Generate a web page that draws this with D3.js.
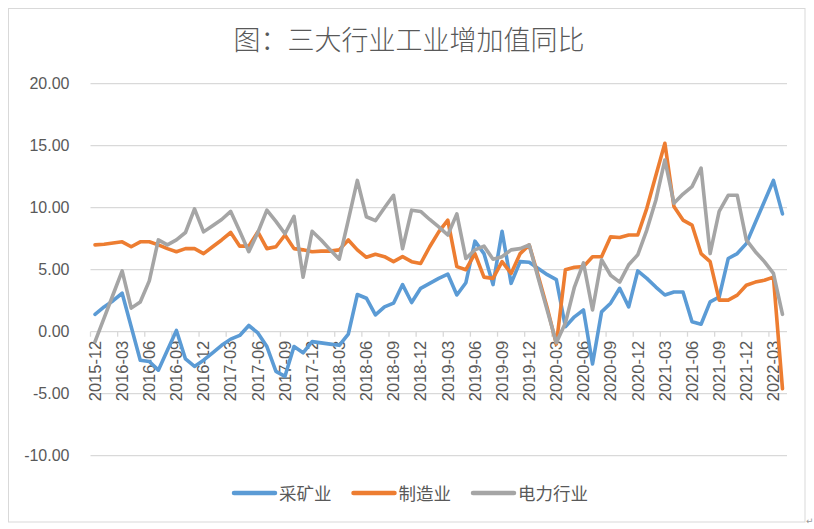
<!DOCTYPE html>
<html><head><meta charset="utf-8">
<script src="https://cdn.jsdelivr.net/npm/d3@7"></script>
<style>
html,body{margin:0;padding:0;background:#fff;}
svg{display:block;}
</style></head>
<body>
<svg id="chart" width="814" height="529"></svg>
<script>
// ---- data ----
const title = "图：三大行业工业增加值同比";
const seriesNames = ["采矿业", "制造业", "电力行业"];
const seriesColors = ["#5B9BD5", "#ED7D31", "#A5A5A5"];

// months 2015-12 .. 2022-04
const categories = [
"2015-12",
"2016-01","2016-02","2016-03","2016-04","2016-05","2016-06","2016-07","2016-08","2016-09","2016-10","2016-11","2016-12",
"2017-01","2017-02","2017-03","2017-04","2017-05","2017-06","2017-07","2017-08","2017-09","2017-10","2017-11","2017-12",
"2018-01","2018-02","2018-03","2018-04","2018-05","2018-06","2018-07","2018-08","2018-09","2018-10","2018-11","2018-12",
"2019-01","2019-02","2019-03","2019-04","2019-05","2019-06","2019-07","2019-08","2019-09","2019-10","2019-11","2019-12",
"2020-01","2020-02","2020-03","2020-04","2020-05","2020-06","2020-07","2020-08","2020-09","2020-10","2020-11","2020-12",
"2021-01","2021-02","2021-03","2021-04","2021-05","2021-06","2021-07","2021-08","2021-09","2021-10","2021-11","2021-12",
"2022-01","2022-02","2022-03","2022-04"];

const mining = [
1.4, 2.0, 2.5, 3.1, 0.4, -2.3, -2.4, -3.1, -1.5, 0.1, -2.2, -2.8, -2.3,
-1.7, -1.1, -0.6, -0.3, 0.5, -0.1, -1.2, -3.2, -3.6, -1.2, -1.7, -0.8,
-0.9, -1.0, -1.1, -0.2, 3.0, 2.7, 1.35, 2.0, 2.3, 3.8, 2.35, 3.5,
3.9, 4.3, 4.65, 2.96, 3.95, 7.3, 6.3, 3.8, 8.1, 3.9, 5.65, 5.6,
5.1, 4.6, 4.2, 0.4, 1.2, 1.75, -2.6, 1.6, 2.3, 3.5, 2.0, 4.9,
4.3, 3.6, 2.96, 3.2, 3.2, 0.8, 0.6, 2.4, 2.8, 5.9, 6.3, 7.1,
8.8, 10.5, 12.2, 9.5];

const manufacturing = [
7.0, 7.05, 7.15, 7.25, 6.85, 7.25, 7.25, 7.0, 6.7, 6.45, 6.7, 6.7, 6.3,
6.85, 7.4, 8.0, 6.9, 6.9, 8.05, 6.7, 6.85, 7.8, 6.7, 6.6, 6.45,
6.5, 6.5, 6.6, 7.4, 6.6, 6.0, 6.25, 6.05, 5.65, 6.05, 5.65, 5.5,
6.85, 8.05, 9.0, 5.25, 5.0, 6.3, 4.4, 4.3, 5.65, 4.7, 6.3, 7.0,
4.5, 1.9, -1.0, 5.0, 5.2, 5.25, 6.05, 6.05, 7.65, 7.6, 7.8, 7.8,
9.95, 12.6, 15.2, 10.1, 9.0, 8.6, 6.3, 5.65, 2.55, 2.55, 2.95, 3.75,
4.0, 4.15, 4.4, -4.6];

const power = [
-0.8, 1.1, 3.0, 4.9, 1.9, 2.4, 4.1, 7.4, 7.0, 7.4, 8.0, 9.9, 8.05,
8.55, 9.05, 9.7, 8.1, 6.45, 8.0, 9.8, 8.9, 7.9, 9.3, 4.4, 8.1,
7.4, 6.6, 5.85, 9.0, 12.2, 9.27, 8.95, 10.0, 11.0, 6.7, 9.8, 9.7,
9.05, 8.45, 7.8, 9.5, 5.9, 6.6, 6.9, 5.85, 6.05, 6.6, 6.7, 7.0,
4.3, 1.7, -0.9, 0.7, 3.6, 5.55, 1.75, 5.8, 4.55, 4.0, 5.4, 6.2,
8.2, 10.6, 13.85, 10.35, 11.1, 11.7, 13.2, 6.3, 9.7, 11.0, 11.0, 7.4,
6.45, 5.65, 4.7, 1.4];

const yTicks = [-10, -5, 0, 5, 10, 15, 20];
const tickLabels = categories.filter((d, i) => i % 3 === 0 && i <= 75);

// ---- drawing ----
const svg = d3.select("#chart");
const plotL = 90.5, plotR = 787, plotT = 83.7, plotB = 455.7;

const x = d3.scaleBand().domain(categories).range([plotL, plotR]).padding(0);
const y = d3.scaleLinear().domain([-10, 20]).range([plotB, plotT]);
const cx = d => x(d) + x.bandwidth() / 2;

// chart border
svg.append("rect").attr("x", 8.5).attr("y", 8.5).attr("width", 796.5).attr("height", 513.5)
  .attr("fill", "#fff").attr("stroke", "#d9d9d9").attr("stroke-width", 1);

// title
svg.append("text").attr("x", 409).attr("y", 50).attr("text-anchor", "middle")
  .attr("font-family", "'Noto Sans CJK SC', sans-serif").attr("font-size", 27)
  .attr("font-weight", 300).attr("fill", "#595959").text(title);

// gridlines
svg.append("g").selectAll("line").data(yTicks).join("line")
  .attr("x1", plotL).attr("x2", plotR)
  .attr("y1", d => y(d)).attr("y2", d => y(d))
  .attr("stroke", "#d9d9d9").attr("stroke-width", 1.3);

// y axis labels
const yAxis = d3.axisLeft(y).tickValues(yTicks).tickSize(0).tickPadding(21)
  .tickFormat(d => d.toFixed(2));
const gy = svg.append("g").attr("transform", `translate(${plotL},0)`).call(yAxis);
gy.select(".domain").remove();
gy.selectAll("text").attr("font-family", "'Liberation Sans', Arial, sans-serif")
  .attr("font-size", 16).attr("fill", "#595959");

// category tick marks on the zero line (every 3 categories, at boundaries)
const tickIdx = d3.range(0, 76, 3);
svg.append("g").selectAll("line").data(tickIdx).join("line")
  .attr("x1", i => x(categories[i])).attr("x2", i => x(categories[i]))
  .attr("y1", y(0)).attr("y2", y(0) + 5)
  .attr("stroke", "#d9d9d9").attr("stroke-width", 1.3);

// x axis labels
const xAxis = d3.axisBottom(x).tickValues(tickLabels).tickSize(0).tickPadding(0);
const gx = svg.append("g").attr("transform", `translate(0,${y(0)})`).call(xAxis);
gx.select(".domain").remove();
gx.selectAll("text")
  .attr("font-family", "'Liberation Sans', Arial, sans-serif")
  .attr("font-size", 16.5).attr("fill", "#595959")
  .attr("transform", "rotate(-90)")
  .attr("x", -9).attr("y", 0).attr("dy", "0.35em")
  .style("text-anchor", "end");

// lines
const seriesData = [mining, manufacturing, power];
const line = d3.line().x((d, i) => cx(categories[i])).y(d => y(d));
svg.append("g").selectAll("path").data(seriesData).join("path")
  .attr("d", d => line(d))
  .attr("fill", "none")
  .attr("stroke", (d, i) => seriesColors[i])
  .attr("stroke-width", 3.6)
  .attr("stroke-linejoin", "round")
  .attr("stroke-linecap", "round");

// legend
const lg = svg.append("g");
let lx = 0;
const items = [];
seriesNames.forEach((name, i) => {
  const g = lg.append("g");
  g.append("line").attr("x1", 0).attr("x2", 41).attr("y1", 0).attr("y2", 0)
    .attr("stroke", seriesColors[i]).attr("stroke-width", 4.5).attr("stroke-linecap", "round");
  const t = g.append("text").attr("x", 45).attr("y", 6.5)
    .attr("font-family", "'Noto Sans CJK SC', sans-serif").attr("font-size", 17.5)
    .attr("fill", "#595959").text(name);
  const w = 45 + t.node().getComputedTextLength();
  items.push({g, w});
});
const gap = 22;
const total = d3.sum(items, d => d.w) + gap * (items.length - 1);
let start = 411 - total / 2;
items.forEach(it => {
  it.g.attr("transform", `translate(${start},493)`);
  start += it.w + gap;
});

// paragraph mark
svg.append("text").attr("x", 806).attr("y", 524).attr("font-size", 9)
  .attr("font-family", "'DejaVu Sans', sans-serif").attr("fill", "#999").text("↵");
</script>
</body></html>
